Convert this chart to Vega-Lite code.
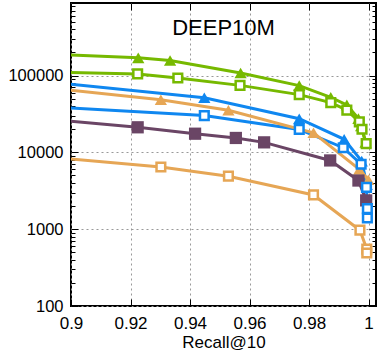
{
  "$schema": "https://vega.github.io/schema/vega-lite/v6.json",
  "width": 305,
  "height": 303,
  "autosize": "none",
  "padding": {"left": 71, "top": 3, "right": 2, "bottom": 49},
  "config": {
    "view": {"stroke": "#000", "strokeWidth": 2},
    "font": "Liberation Sans",
    "axis": {"labelFont": "Liberation Sans", "titleFont": "Liberation Sans", "labelColor": "#000", "titleColor": "#000", "tickColor": "#000", "domain": false}
  },
  "title": {"text": "DEEP10M", "fontSize": 22, "fontWeight": "normal", "font": "Liberation Sans", "color": "#000", "anchor": "middle", "offset": -42},
  "data": {
    "values": [
      {"series": "G-tri", "recall": 0.885, "qps": 197000},
      {"series": "G-tri", "recall": 0.9226, "qps": 170000},
      {"series": "G-tri", "recall": 0.9333, "qps": 157000},
      {"series": "G-tri", "recall": 0.957, "qps": 108000},
      {"series": "G-tri", "recall": 0.9767, "qps": 74000},
      {"series": "G-tri", "recall": 0.9873, "qps": 52000},
      {"series": "G-tri", "recall": 0.9927, "qps": 41500},
      {"series": "G-tri", "recall": 0.9966, "qps": 27500},
      {"series": "G-tri", "recall": 0.9975, "qps": 22000},
      {"series": "G-tri", "recall": 0.999, "qps": 13500},
      {"series": "G-sq", "recall": 0.885, "qps": 113000},
      {"series": "G-sq", "recall": 0.9224, "qps": 105000},
      {"series": "G-sq", "recall": 0.9359, "qps": 93000},
      {"series": "G-sq", "recall": 0.9568, "qps": 74500},
      {"series": "G-sq", "recall": 0.9767, "qps": 56500},
      {"series": "G-sq", "recall": 0.9873, "qps": 44500},
      {"series": "G-sq", "recall": 0.9927, "qps": 35500},
      {"series": "G-sq", "recall": 0.9969, "qps": 25000},
      {"series": "G-sq", "recall": 0.9978, "qps": 20000},
      {"series": "G-sq", "recall": 0.9992, "qps": 13000},
      {"series": "B-tri", "recall": 0.885, "qps": 88000},
      {"series": "B-tri", "recall": 0.9448, "qps": 51300},
      {"series": "B-tri", "recall": 0.9767, "qps": 27400},
      {"series": "B-tri", "recall": 0.9918, "qps": 14800},
      {"series": "B-tri", "recall": 0.9977, "qps": 7700},
      {"series": "B-tri", "recall": 0.9994, "qps": 3800},
      {"series": "B-sq", "recall": 0.885, "qps": 41000},
      {"series": "B-sq", "recall": 0.9448, "qps": 30100},
      {"series": "B-sq", "recall": 0.9767, "qps": 19900},
      {"series": "B-sq", "recall": 0.9915, "qps": 11500},
      {"series": "B-sq", "recall": 0.9975, "qps": 7000},
      {"series": "B-sq", "recall": 0.9993, "qps": 3500},
      {"series": "B-sq", "recall": 0.9996, "qps": 1850},
      {"series": "B-sq", "recall": 0.9996, "qps": 1400},
      {"series": "O-tri", "recall": 0.885, "qps": 74000},
      {"series": "O-tri", "recall": 0.9302, "qps": 48500},
      {"series": "O-tri", "recall": 0.9529, "qps": 35400},
      {"series": "O-tri", "recall": 0.9815, "qps": 18000},
      {"series": "O-tri", "recall": 0.9969, "qps": 6000},
      {"series": "O-tri", "recall": 0.9999, "qps": 4400},
      {"series": "O-sq", "recall": 0.885, "qps": 9250},
      {"series": "O-sq", "recall": 0.9302, "qps": 6450},
      {"series": "O-sq", "recall": 0.9529, "qps": 4900},
      {"series": "O-sq", "recall": 0.9815, "qps": 2790},
      {"series": "O-sq", "recall": 0.9971, "qps": 970},
      {"series": "O-sq", "recall": 0.9994, "qps": 550},
      {"series": "O-sq", "recall": 0.9994, "qps": 490},
      {"series": "P-sq", "recall": 0.885, "qps": 28600},
      {"series": "P-sq", "recall": 0.9224, "qps": 21200},
      {"series": "P-sq", "recall": 0.9417, "qps": 17500},
      {"series": "P-sq", "recall": 0.9554, "qps": 15400},
      {"series": "P-sq", "recall": 0.9649, "qps": 13500},
      {"series": "P-sq", "recall": 0.9871, "qps": 7850},
      {"series": "P-sq", "recall": 0.9966, "qps": 4300},
      {"series": "P-sq", "recall": 0.9992, "qps": 2370}
    ]
  },
  "resolve": {"axis": {"x": "independent", "y": "independent"}},
  "layer": [
    {
      "mark": {"type": "line", "clip": true, "strokeWidth": 3},
      "encoding": {
        "x": {"field": "recall", "type": "quantitative", "scale": {"domain": [0.9, 1.0025], "nice": false, "zero": false},
          "axis": {"orient": "bottom", "values": [0.9, 0.92, 0.94, 0.96, 0.98, 1], "format": "~g", "tickSize": -7, "labelPadding": 16, "labelFontSize": 17, "labelFlush": false, "labelBound": false, "labelOverlap": false, "grid": true, "gridDash": [2, 3], "gridColor": "#999", "title": "Recall@10", "titleFontSize": 17, "titleFontWeight": "normal", "titlePadding": 3}},
        "y": {"field": "qps", "type": "quantitative", "scale": {"type": "log", "domain": [100, 880000], "nice": false},
          "axis": {"orient": "left", "values": [100, 200, 300, 400, 500, 600, 700, 800, 900, 1000, 2000, 3000, 4000, 5000, 6000, 7000, 8000, 9000, 10000, 20000, 30000, 40000, 50000, 60000, 70000, 80000, 90000, 100000, 200000, 300000, 400000, 500000, 600000, 700000, 800000],
            "labelExpr": "indexof([100,1000,10000,100000], datum.value) >= 0 ? format(datum.value, 'd') : ''",
            "labelOverlap": false, "labelBound": false, "labelFontSize": 16.5, "labelPadding": 15,
            "tickSize": {"condition": {"test": "indexof([100,1000,10000,100000], datum.value) >= 0", "value": -7}, "value": -4},
            "grid": true, "gridDash": [2, 3], "gridColor": "#999",
            "gridOpacity": {"condition": {"test": "indexof([100,1000,10000,100000], datum.value) >= 0", "value": 1}, "value": 0},
            "title": null}},
        "color": {"field": "series", "type": "nominal", "legend": null,
          "scale": {"domain": ["G-tri", "G-sq", "B-tri", "B-sq", "O-tri", "O-sq", "P-sq"], "range": ["#76b900", "#76b900", "#0f87f0", "#0f87f0", "#e6a655", "#e6a655", "#6a4565"]}},
        "order": {"field": "qps", "sort": "descending"}
      }
    },
    {
      "transform": [{"filter": "indexof(['G-tri','B-tri','O-tri','P-sq'], datum.series) >= 0"}],
      "mark": {"type": "point", "filled": true, "clip": true, "size": 150, "opacity": 1},
      "encoding": {
        "x": {"field": "recall", "type": "quantitative", "scale": {"domain": [0.9, 1.0025], "nice": false, "zero": false},
          "axis": {"orient": "top", "values": [0.9, 0.92, 0.94, 0.96, 0.98, 1], "tickSize": -7, "labels": false, "grid": false, "title": null}},
        "y": {"field": "qps", "type": "quantitative", "scale": {"type": "log", "domain": [100, 880000], "nice": false},
          "axis": {"orient": "right", "values": [100, 200, 300, 400, 500, 600, 700, 800, 900, 1000, 2000, 3000, 4000, 5000, 6000, 7000, 8000, 9000, 10000, 20000, 30000, 40000, 50000, 60000, 70000, 80000, 90000, 100000, 200000, 300000, 400000, 500000, 600000, 700000, 800000],
            "labels": false, "grid": false, "title": null,
            "tickSize": {"condition": {"test": "indexof([100,1000,10000,100000], datum.value) >= 0", "value": -7}, "value": -4}}},
        "color": {"field": "series", "type": "nominal", "legend": null,
          "scale": {"domain": ["G-tri", "G-sq", "B-tri", "B-sq", "O-tri", "O-sq", "P-sq"], "range": ["#76b900", "#76b900", "#0f87f0", "#0f87f0", "#e6a655", "#e6a655", "#6a4565"]}},
        "shape": {"field": "series", "type": "nominal", "legend": null,
          "scale": {"domain": ["G-tri", "G-sq", "B-tri", "B-sq", "O-tri", "O-sq", "P-sq"], "range": ["triangle-up", "square", "triangle-up", "square", "triangle-up", "square", "square"]}}
      }
    },
    {
      "transform": [{"filter": "indexof(['G-sq','B-sq','O-sq'], datum.series) >= 0"}],
      "mark": {"type": "point", "filled": false, "fill": "#ffffff", "fillOpacity": 1, "clip": true, "size": 75, "strokeWidth": 2.5, "opacity": 1},
      "encoding": {
        "x": {"field": "recall", "type": "quantitative", "scale": {"domain": [0.9, 1.0025], "nice": false, "zero": false}, "axis": null},
        "y": {"field": "qps", "type": "quantitative", "scale": {"type": "log", "domain": [100, 880000], "nice": false}, "axis": null},
        "color": {"field": "series", "type": "nominal", "legend": null,
          "scale": {"domain": ["G-tri", "G-sq", "B-tri", "B-sq", "O-tri", "O-sq", "P-sq"], "range": ["#76b900", "#76b900", "#0f87f0", "#0f87f0", "#e6a655", "#e6a655", "#6a4565"]}},
        "shape": {"field": "series", "type": "nominal", "legend": null,
          "scale": {"domain": ["G-tri", "G-sq", "B-tri", "B-sq", "O-tri", "O-sq", "P-sq"], "range": ["triangle-up", "square", "triangle-up", "square", "triangle-up", "square", "square"]}}
      }
    }
  ]
}
